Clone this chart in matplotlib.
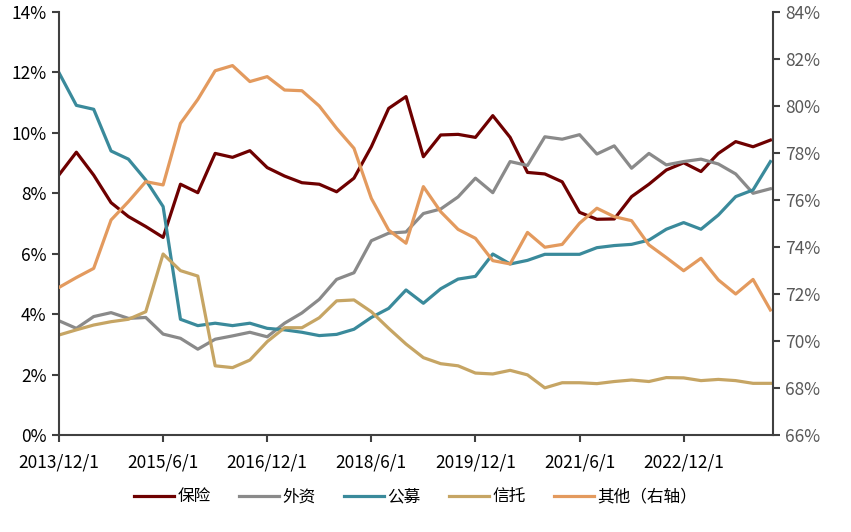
import numpy as np
import pandas as pd
import matplotlib
matplotlib.use('Agg')
import matplotlib.pyplot as plt
from matplotlib.ticker import FuncFormatter

plt.rcParams['font.family'] = ['Liberation Sans Narrow', 'Noto Sans CJK SC', 'DejaVu Sans']

# quarterly observations, 2013/12/1 .. 2024/3/1
dates = pd.date_range('2013-12-01', periods=42, freq='3MS')

# left axis (%)
baoxian = [8.61, 9.36, 8.60, 7.69, 7.23, 6.90, 6.54, 8.30, 8.02, 9.32,
           9.19, 9.41, 8.85, 8.57, 8.35, 8.30, 8.05, 8.50, 9.54, 10.81,
           11.20, 9.21, 9.93, 9.95, 9.85, 10.57, 9.85, 8.69, 8.64, 8.38,
           7.37, 7.14, 7.15, 7.89, 8.30, 8.77, 9.01, 8.72, 9.32, 9.71,
           9.54, 9.76]
waizi = [3.78, 3.53, 3.92, 4.05, 3.86, 3.89, 3.34, 3.20, 2.84, 3.17,
         3.28, 3.40, 3.25, 3.70, 4.04, 4.49, 5.15, 5.37, 6.43, 6.68,
         6.72, 7.33, 7.48, 7.88, 8.50, 8.02, 9.05, 8.92, 9.87, 9.79,
         9.94, 9.30, 9.57, 8.83, 9.32, 8.94, 9.05, 9.13, 8.97, 8.64,
         8.00, 8.15]
gongmu = [11.99, 10.91, 10.78, 9.40, 9.13, 8.44, 7.56, 3.83, 3.62, 3.70,
          3.62, 3.70, 3.53, 3.48, 3.40, 3.29, 3.33, 3.50, 3.89, 4.19,
          4.80, 4.36, 4.84, 5.16, 5.25, 5.99, 5.66, 5.78, 5.98, 5.98,
          5.98, 6.20, 6.27, 6.31, 6.45, 6.81, 7.03, 6.81, 7.28, 7.89,
          8.11, 9.05]
xintuo = [3.31, 3.48, 3.64, 3.75, 3.83, 4.08, 5.99, 5.44, 5.26, 2.29,
          2.23, 2.48, 3.09, 3.55, 3.55, 3.88, 4.44, 4.47, 4.08, 3.53,
          3.01, 2.56, 2.36, 2.29, 2.05, 2.02, 2.14, 1.99, 1.56, 1.73,
          1.73, 1.70, 1.77, 1.82, 1.77, 1.90, 1.89, 1.80, 1.84, 1.80,
          1.71, 1.71]
# right axis (%)
qita = [72.28, 72.70, 73.09, 75.15, 75.93, 76.78, 76.64, 79.26, 80.28, 81.50,
        81.72, 81.04, 81.25, 80.68, 80.65, 80.00, 79.05, 78.20, 76.07, 74.72,
        74.16, 76.57, 75.50, 74.75, 74.37, 73.42, 73.28, 74.62, 73.99, 74.11,
        75.01, 75.65, 75.29, 75.12, 74.09, 73.55, 72.99, 73.52, 72.60, 72.00,
        72.62, 71.32]

left_series = [('保险', baoxian, '#6E0000'),
               ('外资', waizi, '#8A8A8A'),
               ('公募', gongmu, '#3A8A9B'),
               ('信托', xintuo, '#C6A564')]
right_label = '其他（右轴）'
right_color = '#E39A5E'

x = np.arange(len(dates))
tick_pos = x[::6][:7]
tick_labels = [f'{d.year}/{d.month}/{d.day}' for d in dates[tick_pos]]

fig = plt.figure(figsize=(8.51, 5.32), dpi=100)
ax = fig.add_axes([59 / 851, 1 - 435 / 532, (773 - 59) / 851, (435 - 12) / 532])
ax2 = ax.twinx()

handles = []
for name, vals, color in left_series:
    h, = ax.plot(x, vals, color=color, linewidth=2.3, label=name)
    handles.append(h)
h, = ax2.plot(x, qita, color=right_color, linewidth=2.3, label=right_label)
handles.append(h)

ax.set_xlim(0, 41.15)
ax.set_ylim(0, 14)
ax.set_yticks(np.arange(0, 15, 2))
ax.yaxis.set_major_formatter(FuncFormatter(lambda v, p: f'{v:.0f}%'))
ax2.set_ylim(66, 84)
ax2.set_yticks(np.arange(66, 85, 2))
ax2.yaxis.set_major_formatter(FuncFormatter(lambda v, p: f'{v:.0f}%'))

ax.set_xticks(tick_pos)
ax.set_xticklabels(tick_labels)

spine_color = '#404040'
for a in (ax, ax2):
    a.spines['top'].set_visible(False)
    for s in ('left', 'right', 'bottom'):
        a.spines[s].set_color(spine_color)
        a.spines[s].set_linewidth(1.5)
ax.spines['right'].set_visible(False)
ax2.spines['left'].set_visible(False)
ax2.spines['bottom'].set_visible(False)

ax.tick_params(axis='y', direction='out', length=5, width=1.5, color=spine_color,
               labelsize=12.5, labelcolor='black', pad=4)
ax.tick_params(axis='x', direction='out', length=5, width=1.5, color=spine_color,
               labelsize=12.5, labelcolor='black', pad=8)
ax2.tick_params(axis='y', direction='out', length=5, width=1.5, color=spine_color,
                labelsize=12.5, labelcolor='#595959', pad=4)

fig.legend(handles, [h.get_label() for h in handles], loc='center',
           bbox_to_anchor=(0.488, 0.066), ncol=5, frameon=False,
           fontsize=12, handlelength=2.4, handletextpad=0.2, columnspacing=1.7)

fig.savefig('out.png', dpi=100)
